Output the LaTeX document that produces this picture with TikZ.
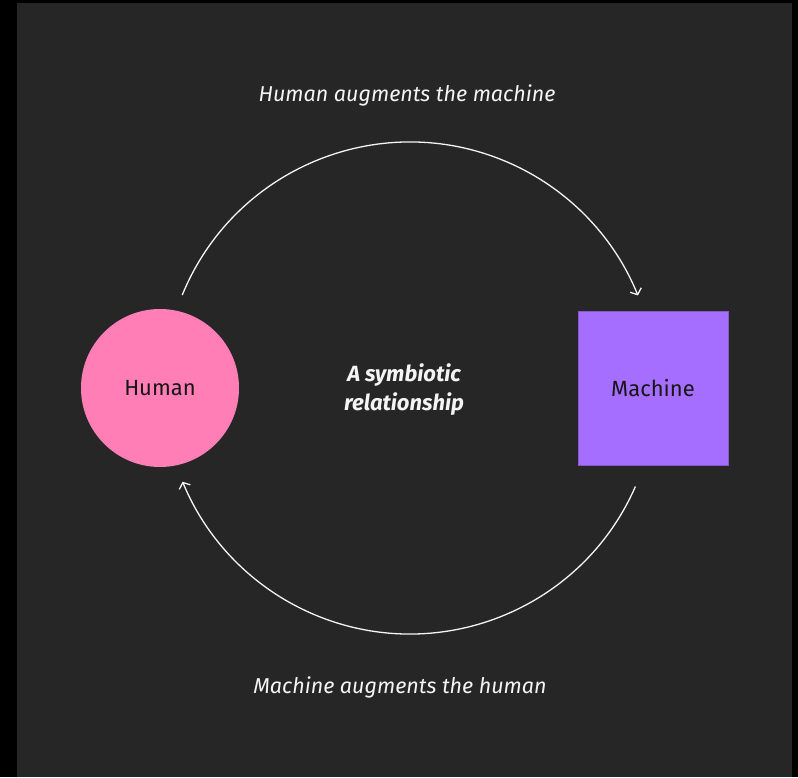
\documentclass[tikz,border=0pt]{standalone}
\usepackage{fontspec}
\setmainfont{Fira Sans}
\usepackage{xcolor}
\usetikzlibrary{arrows.meta}
\definecolor{bggray}{HTML}{262626}
\definecolor{txtgray}{HTML}{F4F4F4}
\definecolor{inktxt}{HTML}{161616}
\definecolor{humanpink}{HTML}{FF7EB6}
\definecolor{machinepurple}{HTML}{A66EFF}
\newcommand{\rr}{246}

\begin{document}
\begin{tikzpicture}[x=1pt,y=1pt,
  lbl/.style={text=txtgray,font=\fontsize{21.5}{26}\selectfont\itshape},
  flow/.style={draw=txtgray,line width=1.3pt,-{Straight Barb[length=5pt,width=12pt]}}]
  % frame and backdrop
  \fill[black] (0,0) rectangle (798,777);
  \fill[bggray] (17,0) rectangle (792,774);
  \useasboundingbox (0,0) rectangle (798,777);
  % the two partners
  \node[circle,fill=humanpink,minimum size=158pt,inner sep=0pt,
        font=\fontsize{22}{26}\selectfont,text=inktxt] (human) at (160,389) {Human};
  \node[rectangle,fill=machinepurple,draw=machinepurple!80!black,line width=0.6pt,
        minimum width=150pt,minimum height=154pt,inner sep=0pt,
        font=\fontsize{22}{26}\selectfont,text=inktxt] (machine) at (653,389) {Machine};
  \node[text=txtgray,font=\fontsize{22}{29}\selectfont\bfseries\itshape,align=center]
    (symb) at (404,387) {A symbiotic\\relationship};
  % loop arcs around the centre
  \coordinate (c) at (410,389);
  \coordinate (top0) at ([shift={(157.8:\rr)}]c);
  \coordinate (bot0) at ([shift={(-23.6:\rr)}]c);
  \draw[flow] (top0) arc[start angle=157.8,end angle=22.1,radius=\rr];
  \draw[flow] (bot0) arc[start angle=-23.6,end angle=-157.6,radius=\rr];
  % captions
  \node[lbl] (hum2mach) at (407,682) {Human augments the machine};
  \node[lbl] (mach2hum) at (400,90) {Machine augments the human};
\end{tikzpicture}
\end{document}
